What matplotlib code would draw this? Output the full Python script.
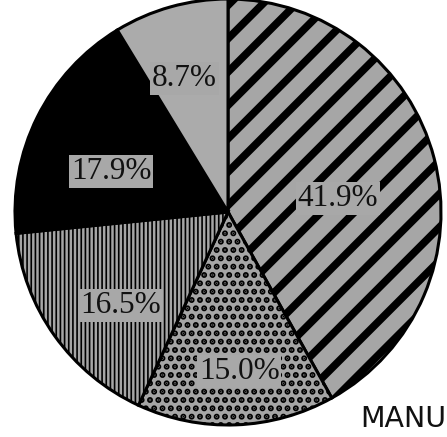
import matplotlib
matplotlib.use("Agg")
import matplotlib.pyplot as plt
import numpy as np

# 各扇区份额 (%), 从 12 点钟方向顺时针
shares = [41.9, 15.0, 16.5, 17.9, 8.7]
labels = ["41.9%", "15.0%", "16.5%", "17.9%", "8.7%"]
hatches = ["/", "..", "||||", "", ""]
faces = ["#a6a6a6", "#a6a6a6", "#a6a6a6", "#000000", "#ababab"]
hatch_lw = [5.5, 3.0, 1.2, 1.0, 1.0]

# 标签位置 (角度, 半径), 手动微调
label_pos = [(7, 0.52), (-86, 0.75), (-139, 0.67), (161, 0.58), (108, 0.66)]

W, H = 447, 437
cx, cy, R = 228, 212, 213

fig = plt.figure(figsize=(W / 100, H / 100), dpi=100)
ax = fig.add_axes([0, 0, 1, 1])

wedges, _ = ax.pie(shares, startangle=90, counterclock=False, colors=faces,
                   wedgeprops=dict(edgecolor="black", linewidth=2.2))
for w, h, lw in zip(wedges, hatches, hatch_lw):
    if h:
        w.set_hatch(h)
        if hasattr(w, "set_hatch_linewidth"):
            w.set_hatch_linewidth(lw)

for (ang, r), txt in zip(label_pos, labels):
    a = np.deg2rad(ang)
    ax.text(r * np.cos(a), r * np.sin(a), txt, ha="center", va="center",
            fontsize=22.5, family="Liberation Serif", color="#111111",
            bbox=dict(boxstyle="square,pad=0.06", fc="#a8a8a8", ec="none"))

ax.set_aspect("auto")
ax.set_xlim(-cx / R, (W - cx) / R)
ax.set_ylim(-(H - cy) / R, cy / R)
ax.axis("off")

fig.text(446 / W, 1 - 419 / H, "MANU", ha="right", va="center",
         fontsize=20.5, family="DejaVu Sans", color="#111111")

fig.savefig("out.png", dpi=100)
